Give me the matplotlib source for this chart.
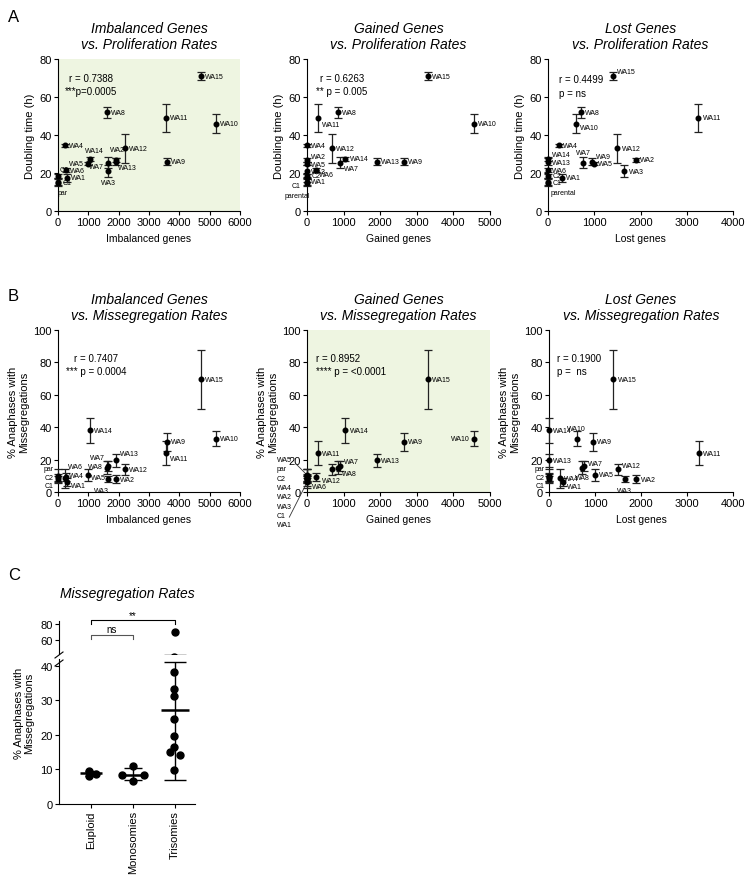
import numpy as np
import matplotlib.pyplot as plt
from matplotlib.lines import Line2D

plt.rcParams['font.family'] = ['Liberation Sans', 'DejaVu Sans']

# per cell line values
samples = ['par', 'C1', 'C2', 'WA1', 'WA2', 'WA3', 'WA4', 'WA5', 'WA6', 'WA7',
           'WA8', 'WA9', 'WA10', 'WA11', 'WA12', 'WA13', 'WA14', 'WA15']
imbalanced_genes = [0, 0, 0, 300, 1900, 1650, 230, 1000, 250, 1650,
                    1600, 3600, 5200, 3550, 2200, 1900, 1050, 4700]
gained_genes = [0, 0, 0, 0, 0, 0, 0, 0, 250, 900,
                850, 2650, 4550, 300, 680, 1900, 1050, 3300]
lost_genes = [0, 0, 0, 300, 1900, 1650, 230, 1000, 0, 760,
              720, 950, 600, 3250, 1500, 0, 0, 1400]
doubling_time = [15, 15.5, 18.5, 17.5, 27, 21, 34.5, 25, 21.5, 25.5,
                 52, 26, 46, 49, 33, 26, 27.5, 71]
doubling_err = [2, 2, 1, 2, 1, 3, 0.8, 1, 1, 3,
                3, 2, 5, 7.5, 7.5, 2, 1, 2]
misseg_rate = [10, 8, 9, 6, 8, 8, 8.5, 10.5, 9.5, 16,
               15, 31, 33, 24, 14, 19.5, 38, 69.5]
misseg_err = [4.5, 2, 2, 2.5, 2.5, 2, 6, 3.5, 2.5, 3,
              4, 5.5, 4.5, 7.5, 3.5, 4, 7.5, 18]

# panel C
group_names = ['Euploid', 'Monosomies', 'Trisomies']
euploid_rates = [9.7, 8.1, 8.8]
monosomy_rates = [10.9, 8.3, 8.3, 6.7]
trisomy_rates = [70.4, 38.2, 33.3, 31.3, 24.5, 19.6, 16.4, 15.0, 14.2, 9.9]
group_center = [8.9, 8.5, 27.2]
group_low = [8.2, 6.9, 7.0]
group_high = [9.7, 10.3, 41.0]

W, H = 750, 879
fig = plt.figure(figsize=(W / 100, H / 100), dpi=100)
GREEN = '#eef5e1'


def px_box(left, top, right, bottom):
    return [left / W, 1 - bottom / H, (right - left) / W, (bottom - top) / H]


def style_axis(ax):
    for s in ['top', 'right']:
        ax.spines[s].set_visible(False)
    for s in ['left', 'bottom']:
        ax.spines[s].set_linewidth(0.8)
    ax.tick_params(direction='out', length=3, width=0.8, labelsize=8, pad=1.5)


def scatter_panel(box, xvals, yvals, yerr, xmax, xstep, ymax, ystep, title,
                  xlabel, ylabel, stat, stat_xy, stat_ha, shaded, offsets,
                  rename={}, hide=()):
    ax = fig.add_axes(px_box(*box))
    if shaded:
        ax.set_facecolor(GREEN)
    eb = ax.errorbar(xvals, yvals, yerr=yerr, fmt='o', color='black', ms=3.3,
                     ecolor='#222222', elinewidth=0.9, capsize=2.7, capthick=0.9,
                     zorder=3)
    for a in eb.get_children():
        a.set_clip_on(False)
    ax.set_xlim(0, xmax)
    ax.set_ylim(0, ymax)
    ax.set_xticks(np.arange(0, xmax + 1, xstep))
    ax.set_yticks(np.arange(0, ymax + 1, ystep))
    style_axis(ax)
    ax.set_title(title, fontsize=10, style='italic', pad=8, linespacing=1.15)
    ax.set_xlabel(xlabel, fontsize=7.5, labelpad=4)
    ax.set_ylabel(ylabel, fontsize=8, labelpad=3, linespacing=1.1)
    ax.text(stat_xy[0], stat_xy[1], stat, transform=ax.transAxes, fontsize=7,
            ha=stat_ha, va='top', multialignment=stat_ha, linespacing=1.45)
    for i, name in enumerate(samples):
        if name in hide:
            continue
        dx, dy, ha = offsets.get(name, (3, 0, 'left'))
        ax.annotate(rename.get(name, name), (xvals[i], yvals[i]), xytext=(dx, dy),
                    textcoords='offset points', ha=ha, va='center', fontsize=5,
                    annotation_clip=False)
    return ax


# ---- row A: doubling time
scatter_panel((58, 60, 240, 212), imbalanced_genes, doubling_time, doubling_err,
              6000, 1000, 80, 20, 'Imbalanced Genes\nvs. Proliferation Rates',
              'Imbalanced genes', 'Doubling time (h)', 'r = 0.7388\n***p=0.0005',
              (0.18, 0.91), 'center', True,
              {'WA14': (3, 6, 'center'), 'WA2': (1, 7, 'center'),
               'WA5': (-3, 0, 'right'), 'WA7': (-3, -3, 'right'),
               'WA13': (2, -4, 'left'), 'WA3': (0, -8, 'center'),
               'C2': (1, 4.5, 'left'), 'C1': (3, -1, 'left'),
               'par': (0, -7, 'left'), 'WA6': (3, 0, 'left')})

scatter_panel((307, 60, 490, 212), gained_genes, doubling_time, doubling_err,
              5000, 1000, 80, 20, 'Gained Genes\nvs. Proliferation Rates',
              'Gained genes', 'Doubling time (h)', 'r = 0.6263\n** p = 0.005',
              (0.19, 0.91), 'center', False,
              {'WA11': (3, -5, 'left'), 'WA7': (3, -4, 'left'),
               'WA6': (2, -3, 'left'), 'C1': (-8, -3, 'center'),
               'par': (-7, -9, 'center'), 'WA1': (3, -2.5, 'left'),
               'WA2': (3, 2, 'left'), 'WA5': (3, -0.5, 'left'),
               'C2': (3, 0, 'left')},
              rename={'par': 'parental'})

scatter_panel((548, 60, 733, 212), lost_genes, doubling_time, doubling_err,
              4000, 1000, 80, 20, 'Lost Genes\nvs. Proliferation Rates',
              'Lost genes', 'Doubling time (h)', 'r = 0.4499\np = ns',
              (0.06, 0.90), 'left', False,
              {'WA15': (3, 3, 'left'), 'WA10': (3, -3, 'left'),
               'WA7': (0, 7, 'center'), 'WA9': (3, 4, 'left'),
               'par': (2, -7, 'left'), 'C1': (3, -1, 'left'),
               'WA14': (3, 3, 'left'), 'WA13': (3, -0.5, 'left')},
              rename={'par': 'parental'})

# ---- row B: missegregation
b_label = '% Anaphases with\nMissegregations'
scatter_panel((58, 331, 240, 493), imbalanced_genes, misseg_rate, misseg_err,
              6000, 1000, 100, 20, 'Imbalanced Genes\nvs. Missegregation Rates',
              'Imbalanced genes', b_label, 'r = 0.7407\n*** p = 0.0004',
              (0.21, 0.86), 'center', False,
              {'WA11': (3, -4, 'left'), 'WA13': (3, 5, 'left'),
               'WA7': (-2, 6, 'right'), 'WA8': (-3, 1, 'right'),
               'WA5': (2, -2, 'left'), 'WA3': (-5, -8, 'center'),
               'WA6': (2, 7, 'left'), 'WA4': (3, 2, 'left'),
               'WA1': (3, -2, 'left'), 'par': (-3, 5.5, 'right'),
               'C2': (-3, 0, 'right'), 'C1': (-3, -4.5, 'right')})

zero_col = ['WA5', 'par', 'C2', 'WA4', 'WA2', 'WA3', 'C1', 'WA1']
ax_b2 = scatter_panel((307, 331, 490, 493), gained_genes, misseg_rate, misseg_err,
                      5000, 1000, 100, 20, 'Gained Genes\nvs. Missegregation Rates',
                      'Gained genes', b_label, 'r = 0.8952\n**** p = <0.0001',
                      (0.05, 0.86), 'left', True,
                      {'WA10': (-3, 0, 'right'), 'WA7': (3, 3, 'left'),
                       'WA8': (3, -4, 'left'), 'WA12': (0, -8, 'center'),
                       'WA6': (2, -7, 'center')},
                      hide=zero_col)
for k, name in enumerate(zero_col):
    i = samples.index(name)
    props = None
    if name == 'WA5':
        props = dict(arrowstyle='-', lw=0.6, color='#333333', shrinkA=1,
                     shrinkB=1, relpos=(1, 0.5))
    elif name == 'WA1':
        props = dict(arrowstyle='-', lw=0.6, color='#333333', shrinkA=1,
                     shrinkB=1, relpos=(0.7, 1))
    ax_b2.annotate(name, (gained_genes[i], misseg_rate[i]),
                   xytext=(-0.165, 0.2 - k * 0.0575), textcoords='axes fraction',
                   ha='left', va='center', fontsize=5, annotation_clip=False,
                   arrowprops=props)

scatter_panel((549, 331, 733, 493), lost_genes, misseg_rate, misseg_err,
              4000, 1000, 100, 20, 'Lost Genes\nvs. Missegregation Rates',
              'Lost genes', b_label, 'r = 0.1900\np =  ns',
              (0.045, 0.86), 'left', False,
              {'WA10': (0, 7, 'center'), 'WA8': (0, -7, 'center'),
               'WA3': (0, -8, 'center'), 'WA12': (3, 3, 'left'),
               'WA1': (3, -3, 'left'), 'WA7': (3, 2, 'left'),
               'par': (-3, 5.5, 'right'), 'C2': (-3, 0, 'right'),
               'C1': (-3, -4.5, 'right')},
              hide=('WA6',))

# ---- panel C: broken y axis
ax_lo = fig.add_axes(px_box(59, 660, 195, 805))
ax_hi = fig.add_axes(px_box(59, 622, 195, 655))
groups = [euploid_rates, monosomy_rates, trisomy_rates]
spread = [[-0.05, -0.05, 0.12], [0, -0.25, 0.27, 0],
          [0, -0.03, -0.02, -0.03, -0.02, -0.03, -0.03, -0.12, 0.12, -0.03]]
mean_half = [0.26, 0.33, 0.33]
caps = [4, 6.5, 8]
for ax in (ax_lo, ax_hi):
    for g, vals in enumerate(groups):
        ax.plot(g + np.array(spread[g]), vals, 'o', color='black', ms=5, zorder=3)
        ax.hlines(group_center[g], g - mean_half[g], g + mean_half[g],
                  color='black', lw=1.8)
        ax.errorbar(g, group_center[g],
                    yerr=[[group_center[g] - group_low[g]], [group_high[g] - group_center[g]]],
                    fmt='none', ecolor='black', elinewidth=1, capsize=caps[g], capthick=1)
    ax.set_xlim(-0.76, 2.48)
    style_axis(ax)

ax_lo.set_ylim(0, 42)
ax_lo.set_yticks([0, 10, 20, 30, 40])
ax_lo.set_xticks(range(3))
ax_lo.set_xticklabels(group_names, rotation=90, fontsize=8)
ax_hi.set_ylim(42.5, 83.75)
ax_hi.set_yticks([60, 80])
ax_hi.spines['bottom'].set_visible(False)
ax_hi.set_xticks([])
ax_hi.patch.set_alpha(0)
ax_hi.set_title('Missegregation Rates', fontsize=10, style='italic', pad=17)

# significance brackets
ax_hi.plot([0, 0, 2, 2], [80, 85, 85, 80], color='black', lw=0.8, clip_on=False)
ax_hi.text(1, 85.5, '**', ha='center', va='bottom', fontsize=7)
ax_hi.plot([0, 0, 1, 1], [61, 66, 66, 61], color='#555555', lw=0.8, clip_on=False)
ax_hi.text(0.5, 67, 'ns', ha='center', va='bottom', fontsize=7)

# axis break marks
for y0 in (656, 664):
    fig.add_artist(Line2D([55 / W, 63 / W], [1 - (y0 + 3) / H, 1 - (y0 - 3) / H],
                          color='black', lw=0.8))

fig.text(24 / W, 1 - 713 / H, b_label, rotation=90, ha='center', va='center',
         fontsize=8, linespacing=1.1)

# panel letters
for letter, y in (('A', 18), ('B', 297), ('C', 576)):
    fig.text(8 / W, 1 - y / H, letter, fontsize=12, va='center')

fig.savefig('out.png', dpi=100)
